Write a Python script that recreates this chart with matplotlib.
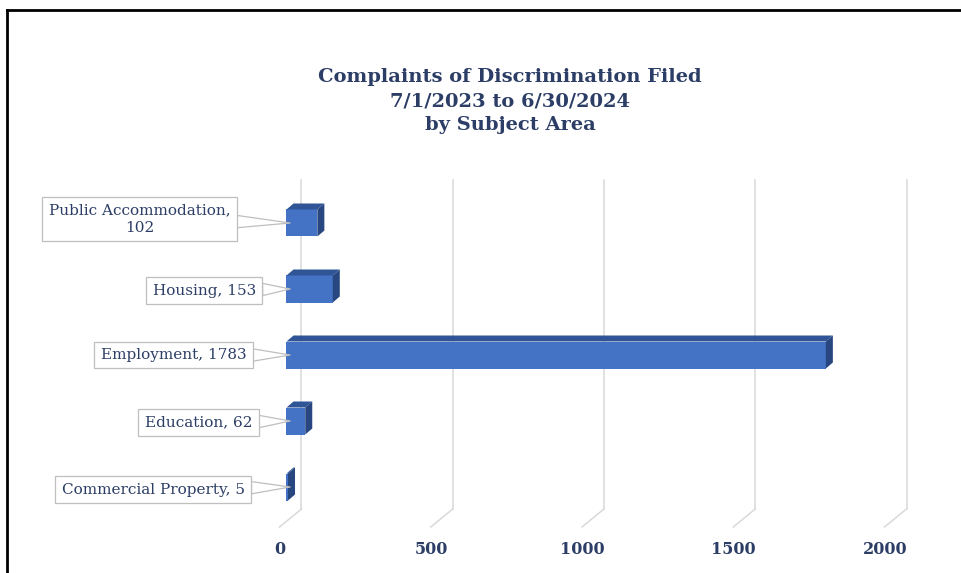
import numpy as np
import matplotlib
matplotlib.use("Agg")
import matplotlib.pyplot as plt
import matplotlib.transforms as mtransforms
from matplotlib.patches import Polygon
from matplotlib.lines import Line2D

# data
areas = ["Commercial Property", "Education", "Employment", "Housing", "Public Accommodation"]
counts = [5, 62, 1783, 153, 102]
labels = ["Commercial Property, 5", "Education, 62", "Employment, 1783",
          "Housing, 153", "Public Accommodation,\n102"]
ticks = [0, 500, 1000, 1500, 2000]
title = "Complaints of Discrimination Filed\n7/1/2023 to 6/30/2024\nby Subject Area"

navy = "#2C3E66"
front = "#4472C4"
topc = "#2F5597"
sidec = "#28467F"
grid = "#D9D9D9"

plt.rcParams["font.family"] = ["DejaVu Serif"]

W, H = 962, 573
fig = plt.figure(figsize=(W / 100, H / 100), dpi=100)

# plot area (pixels)
x0, x1 = 286.5, 891.5
ytop, ybot = 180, 509
ax = fig.add_axes([x0 / W, 1 - ybot / H, (x1 - x0) / W, (ybot - ytop) / H])
ax.set_xlim(0, 2000)
ax.set_ylim(-0.3333, 4.6515)
ax.axis("off")

def px(dx, dy):
    return mtransforms.ScaledTranslation(dx / 100, dy / 100, fig.dpi_scale_trans)

blend = mtransforms.blended_transform_factory(ax.transData, ax.transAxes)

# gridlines on the back wall, with the floor diagonal
for t in ticks:
    ax.plot([t, t], [0, 1], color=grid, lw=1.1, transform=blend + px(15, 0), clip_on=False, zorder=1)
    p = blend.transform((t, 0))
    ax.add_line(Line2D([p[0] + 15, p[0] - 7], [p[1], p[1] - 18], color=grid, lw=1.1,
                       transform=mtransforms.IdentityTransform(), zorder=1, clip_on=False))
    ax.text(t, 0, str(t), transform=blend + px(-6.5, -41), ha="center", va="center",
            fontsize=11.5, fontweight="bold", color=navy)

# 3D bars
h = 27 / 66
dx = 7 * 2000 / (x1 - x0)
dy = 6 / 66
for i, v in enumerate(counts):
    ax.barh(i, v, height=h, color=front, zorder=3, clip_on=False)
    top = Polygon([(0, i + h / 2), (v, i + h / 2), (v + dx, i + h / 2 + dy), (dx, i + h / 2 + dy)],
                  closed=True, facecolor=topc, edgecolor="none", zorder=3, clip_on=False)
    side = Polygon([(v, i - h / 2), (v, i + h / 2), (v + dx, i + h / 2 + dy), (v + dx, i - h / 2 + dy)],
                   closed=True, facecolor=sidec, edgecolor="none", zorder=3, clip_on=False)
    ax.add_patch(top)
    ax.add_patch(side)

# callout labels
offsets = [(-137, -2.5), (-91.5, -1.5), (-116.5, 0), (-86, -1.5), (-150.5, 4)]
for i, (lab, off) in enumerate(zip(labels, offsets)):
    ax.annotate(lab, xy=(12, i), xytext=off, textcoords="offset pixels",
                ha="center", va="center", fontsize=11, color=navy, zorder=5,
                linespacing=1.3,
                bbox=dict(boxstyle="square,pad=0.42", fc="white", ec="#BFBFBF", lw=0.9),
                arrowprops=dict(arrowstyle="wedge,tail_width=0.8,shrink_factor=0.5",
                                fc="white", ec="#BFBFBF", lw=0.9, shrinkA=0, shrinkB=0))

fig.text(510 / W, 1 - 101 / H, title, ha="center", va="center", fontsize=14,
         fontweight="bold", color=navy, linespacing=1.4)

# border
fig.add_artist(Line2D([7 / W, 1], [1 - 10 / H, 1 - 10 / H], transform=fig.transFigure, color="black", lw=2))
fig.add_artist(Line2D([7 / W, 7 / W], [0, 1 - 10 / H], transform=fig.transFigure, color="black", lw=2))

fig.savefig("out.png", dpi=100)
